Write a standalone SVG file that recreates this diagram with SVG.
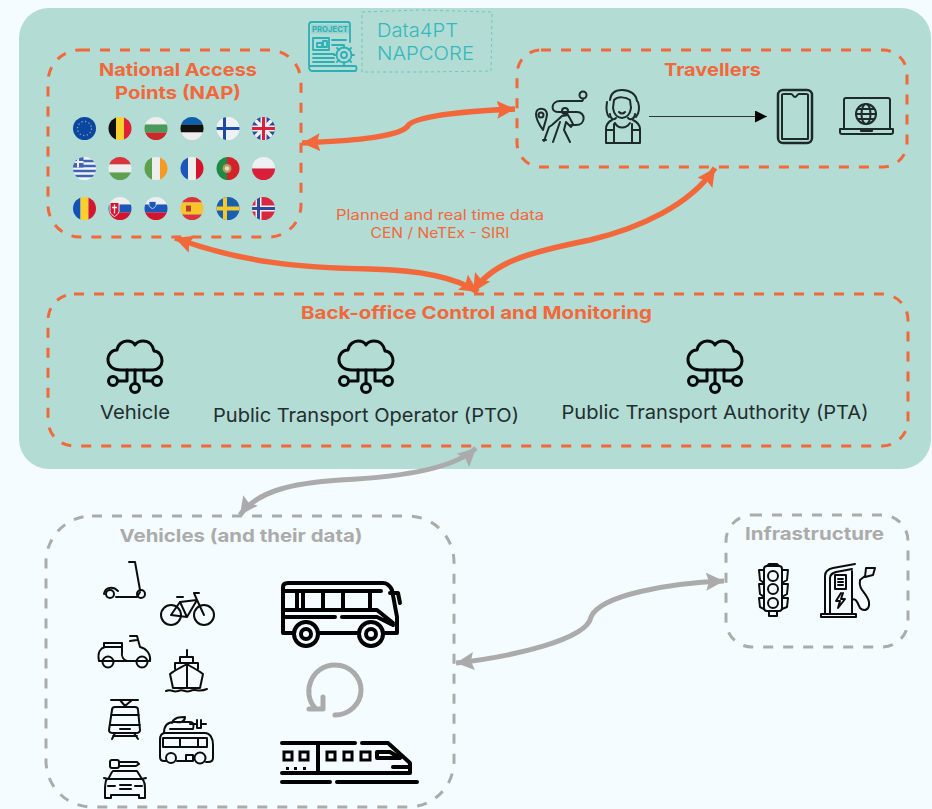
<svg xmlns="http://www.w3.org/2000/svg" width="932" height="809" viewBox="0 0 932 809">
<style>
.t{font-family:"Inter","Liberation Sans",sans-serif}
.h{font-weight:700;font-size:18px;text-anchor:middle}
.or{fill:#f2683a}.gr{fill:#ababab}
.lb{font-weight:400;font-size:19px;fill:#222e2e;text-anchor:middle}
.bo{fill:none;stroke:#f2683a;stroke-width:3;stroke-dasharray:10 10}
.bg{fill:none;stroke:#ababab;stroke-width:3;stroke-dasharray:10 10}
.ic{fill:none;stroke:#1d2a2a;stroke-width:2;stroke-linecap:round;stroke-linejoin:round}
.ik{fill:none;stroke:#0c0c0c;stroke-width:2;stroke-linecap:round;stroke-linejoin:round}
.ib{fill:none;stroke:#000;stroke-width:4;stroke-linecap:round;stroke-linejoin:round}
.cl{fill:none;stroke:#050a0a;stroke-width:3;stroke-linecap:round;stroke-linejoin:round}
.ip{fill:none;stroke:#2bb0b5;stroke-width:1.800;stroke-linecap:round;stroke-linejoin:round}
.co{fill:none;stroke:#f2683a;stroke-width:5.500;marker-start:url(#ao);marker-end:url(#ao)}
.cg{fill:none;stroke:#ababab;stroke-width:5;marker-start:url(#ag);marker-end:url(#ag)}
</style>
<defs>
<marker id="ao" markerUnits="userSpaceOnUse" markerWidth="20" markerHeight="20" refX="18" refY="9" orient="auto-start-reverse"><path d="M0 0L18 9L0 18L3 9z" fill="#f2683a"/></marker>
<marker id="ag" markerUnits="userSpaceOnUse" markerWidth="20" markerHeight="20" refX="18" refY="9" orient="auto-start-reverse"><path d="M0 0L18 9L0 18L3 9z" fill="#ababab"/></marker>
<marker id="ak" markerUnits="userSpaceOnUse" markerWidth="13" markerHeight="13" refX="12" refY="6" orient="auto"><path d="M0 0L12 6L0 12z" fill="#000"/></marker>
<clipPath id="fc"><circle r="11.500"/></clipPath>
<symbol id="cloud" overflow="visible">
<path class="cl" d="M13 29C4 29 0 24 0 19C0 13 4 9 9 9C10 3 15 0 19 0C23 0 26 2 27 4C29 1 32 0 35 0C41 0 45 4 46 10C51 10 54 15 54 20C54 25 50 29 45 29Z"/>
<path class="cl" d="M19 29V40H10M27 29V42.500M36 29V40H44"/>
<circle class="cl" cx="5" cy="40" r="4.500"/><circle class="cl" cx="49" cy="40" r="4.500"/><circle class="cl" cx="27" cy="47" r="4.500"/>
</symbol>
</defs>
<rect width="932" height="809" fill="#f4fcff"/>
<rect x="19" y="8" width="912" height="461" rx="30" fill="#b3dcd5"/>

<g id="project-logo">
<path class="ip" d="M309 66V25C309 23 310 22 312 22H348C349 22 350 23 350 25V42M309 66H355C357 66 357 71 355 71H312C310 71 309 69 309 66Z"/>
<rect x="311" y="24.500" width="38" height="9" fill="#2bb0b5" opacity=".2"/>
<text class="t" x="330" y="32" font-size="8" font-weight="700" fill="#2bb0b5" text-anchor="middle" textLength="36" lengthAdjust="spacingAndGlyphs">PROJECT</text>
<rect class="ip" x="313" y="38" width="16" height="12"/><rect class="ip" x="317" y="43" width="5" height="4"/><rect class="ip" x="323" y="41" width="4" height="6"/><path class="ip" d="M332 40H346M332 45H343M313 54H334M313 58H334M313 62H334"/>
<circle class="ip" cx="344" cy="55" r="3"/><circle class="ip" cx="344" cy="55" r="7.500"/><path class="ip" d="M344 45V47.500M344 62.500V65M334 55H336.500M351.500 55H354M337 48L339 50M349 60L351 62M351 48L349 50M339 60L337 62"/>
<path d="M362 12L420 10L492 12L491 71L420 72L362 72Z" fill="none" stroke="#2bb0b5" stroke-width="1" stroke-dasharray="3 3" opacity=".5"/>
<text class="t" x="377" y="37" font-size="19" font-weight="300" fill="#35b8bc" textLength="81" lengthAdjust="spacingAndGlyphs">Data4PT</text>
<text class="t" x="377" y="60" font-size="19" font-weight="300" fill="#35b8bc" textLength="97" lengthAdjust="spacingAndGlyphs">NAPCORE</text>
</g>

<g id="connectors">
<path class="co" d="M302 143C345 141 395 138 407 127C412 116 465 111 515 109"/>
<path class="co" d="M175 238C240 262 300 268 370 269C420 270 455 277 478 292"/>
<path class="co" d="M715 168C690 205 640 228 590 240C530 252 492 262 473 292"/>
<path class="cg" d="M476 448C455 468 405 477 340 480C295 483 258 490 240 515"/>
<path class="cg" d="M724 581C670 583 600 595 591 617C587 640 510 657 456 663"/>
</g>

<g id="nap">
<rect class="bo" x="48" y="50" width="253" height="187" rx="32"/>
<text class="t h or" x="178" y="76" textLength="158" lengthAdjust="spacingAndGlyphs">National Access</text>
<text class="t h or" x="178" y="99" textLength="126" lengthAdjust="spacingAndGlyphs">Points (NAP)</text>
<g id="flags">
<g transform="translate(84.500 128.500)" clip-path="url(#fc)"><rect x="-12" y="-12" width="24" height="24" fill="#0b46a0"/><circle r="7" fill="none" stroke="#8fa3b8" stroke-width="1.300" stroke-dasharray="1.300 2.400"/></g>
<g transform="translate(120 128.500)" clip-path="url(#fc)"><rect x="-12" y="-12" width="8" height="24" fill="#111"/><rect x="-4" y="-12" width="8" height="24" fill="#f8d12f"/><rect x="4" y="-12" width="8" height="24" fill="#e0213a"/></g>
<g transform="translate(156 128.500)" clip-path="url(#fc)"><rect x="-12" y="-12" width="24" height="8" fill="#eee"/><rect x="-12" y="-4" width="24" height="8" fill="#4a9a5c"/><rect x="-12" y="4" width="24" height="8" fill="#c92b2b"/></g>
<g transform="translate(192 128.500)" clip-path="url(#fc)"><rect x="-12" y="-12" width="24" height="8" fill="#0d5eaf"/><rect x="-12" y="-4" width="24" height="8" fill="#111"/><rect x="-12" y="4" width="24" height="8" fill="#eee"/></g>
<g transform="translate(228 128.500)" clip-path="url(#fc)"><rect x="-12" y="-12" width="24" height="24" fill="#eef2f5"/><rect x="-12" y="-1.500" width="24" height="3" fill="#1b4aa0"/><rect x="-5" y="-12" width="3" height="24" fill="#1b4aa0"/></g>
<g transform="translate(263.500 128.500)" clip-path="url(#fc)"><rect x="-12" y="-12" width="24" height="24" fill="#2b4a9a"/><path d="M-12-12L12 12M12-12L-12 12" stroke="#eee" stroke-width="3.500"/><path d="M-12 0H12M0-12V12" stroke="#eee" stroke-width="6"/><path d="M-12 0H12M0-12V12" stroke="#d8203a" stroke-width="3"/></g>

<g transform="translate(84.500 168.500)" clip-path="url(#fc)"><rect x="-12" y="-12" width="24" height="24" fill="#f2f4f6"/><path d="M-12-7.500H12M-12-2.500H12M-12 2.500H12M-12 7.500H12" stroke="#3f63b5" stroke-width="2.400"/><rect x="-12" y="-12" width="11" height="11" fill="#3f63b5"/><path d="M-6.500-12V-1M-12-6.500H-1" stroke="#eee" stroke-width="2"/></g>
<g transform="translate(120 168.500)" clip-path="url(#fc)"><rect x="-12" y="-12" width="24" height="8" fill="#d8343a"/><rect x="-12" y="-4" width="24" height="8" fill="#eee"/><rect x="-12" y="4" width="24" height="8" fill="#5fa04e"/></g>
<g transform="translate(156 168.500)" clip-path="url(#fc)"><rect x="-12" y="-12" width="8" height="24" fill="#5fa04e"/><rect x="-4" y="-12" width="8" height="24" fill="#eee"/><rect x="4" y="-12" width="8" height="24" fill="#f79a24"/></g>
<g transform="translate(192 168.500)" clip-path="url(#fc)"><rect x="-12" y="-12" width="8" height="24" fill="#1c56b8"/><rect x="-4" y="-12" width="8" height="24" fill="#eee"/><rect x="4" y="-12" width="8" height="24" fill="#d3142c"/></g>
<g transform="translate(228 168.500)" clip-path="url(#fc)"><rect x="-12" y="-12" width="11" height="24" fill="#1f8a45"/><rect x="-1" y="-12" width="13" height="24" fill="#d3232a"/><circle cx="-1" r="4.500" fill="#b89a5a"/><circle cx="-1" r="2.200" fill="#ddd"/></g>
<g transform="translate(263.500 168.500)" clip-path="url(#fc)"><rect x="-12" y="-12" width="24" height="12" fill="#eef1f3"/><rect x="-12" y="0" width="24" height="12" fill="#d9203a"/></g>

<g transform="translate(84.500 208.500)" clip-path="url(#fc)"><rect x="-12" y="-12" width="8" height="24" fill="#1251b5"/><rect x="-4" y="-12" width="8" height="24" fill="#f7d12e"/><rect x="4" y="-12" width="8" height="24" fill="#d5162e"/></g>
<g transform="translate(120 208.500)" clip-path="url(#fc)"><rect x="-12" y="-12" width="24" height="8" fill="#eee"/><rect x="-12" y="-4" width="24" height="8" fill="#1c56b8"/><rect x="-12" y="4" width="24" height="8" fill="#d3142c"/><path d="M-10-6H-1V3C-2 6-4 7-5.500 8C-7 7-9 6-10 3Z" fill="#d3142c" stroke="#eee"/><path d="M-5.500-4V5M-8-1H-3" stroke="#eee" stroke-width="1.300"/></g>
<g transform="translate(156 208.500)" clip-path="url(#fc)"><rect x="-12" y="-12" width="24" height="8" fill="#eee"/><rect x="-12" y="-4" width="24" height="8" fill="#1c56b8"/><rect x="-12" y="4" width="24" height="8" fill="#d3142c"/><path d="M-7-7H0V-3C-1-1-3 0-3.500 0C-4 0-6-1-7-3Z" fill="#1c56b8" stroke="#eee" stroke-width=".8"/></g>
<g transform="translate(192 208.500)" clip-path="url(#fc)"><rect x="-12" y="-12" width="24" height="6" fill="#d8343a"/><rect x="-12" y="-6" width="24" height="12" fill="#f8c42d"/><rect x="-12" y="6" width="24" height="6" fill="#d8343a"/><rect x="-6" y="-3" width="5" height="6" fill="#b5402a"/></g>
<g transform="translate(228 208.500)" clip-path="url(#fc)"><rect x="-12" y="-12" width="24" height="24" fill="#1a5fae"/><rect x="-12" y="-2" width="24" height="4" fill="#f4c92d"/><rect x="-5" y="-12" width="4" height="24" fill="#f4c92d"/></g>
<g transform="translate(263.500 208.500)" clip-path="url(#fc)"><rect x="-12" y="-12" width="24" height="24" fill="#d8273f"/><path d="M-12 0H12M-5-12V12" stroke="#eee" stroke-width="6"/><path d="M-12 0H12M-5-12V12" stroke="#2b4a9a" stroke-width="3"/></g>
</g>
</g>

<g id="travellers">
<rect class="bo" x="517" y="50" width="390" height="117" rx="24"/>
<text class="t h or" x="712.500" y="76" textLength="97" lengthAdjust="spacingAndGlyphs">Travellers</text>
<path id="inner-arrow" d="M649 116.500H767" fill="none" stroke="#333" stroke-width="1" marker-end="url(#ak)"/>
<g id="hiker">
<circle class="ic" cx="583" cy="95" r="3.500"/><path class="ic" d="M583 100L582 101H560C551 101 550 112 558 112H577C586 112 586 125 576 125H571"/>
<circle class="ic" cx="541" cy="115" r="2.500"/><path class="ic" d="M543 130C538 123 536 118 536 114C536 107 546 107 547 114C547 118 545 122 543 130Z"/>
<circle class="ic" cx="565" cy="111" r="3"/><path class="ic" d="M562 116L568 115L573 124L571 127L566 122L564 130L570 142M562 116L552 125L549 127M560 122L553 142M549 127L544 141M546 140L543 140"/>
</g>
<g id="woman">
<path class="ic" d="M610 100C611 91 617 90 622 90C630 90 636 94 637 101M607 102C606 108 606 113 609 117M638 102C640 108 639 113 636 117"/>
<path class="ic" d="M614 100C618 96 626 97 630 100L631 108C630 115 626 118 622 118C618 118 614 115 613 108Z"/>
<path class="ic" d="M616 118C613 121 610 118 610 114M628 118C631 121 635 118 635 114M615 123C618 129 626 129 630 123M612 120C608 122 606 124 606 129V143H640V129C640 124 637 122 633 120M614 124V143M632 124V143M606 130H614M632 130H640"/>
<path class="ic" d="M619 112C621 114 623 114 625 112"/>
</g>
<g id="phone">
<rect class="ic" style="stroke-width:2.500" x="778" y="90" width="34" height="53" rx="5"/>
<path class="ic" d="M782 95C782 94 783 94 784 94H791C793 94 793 97 795 97C797 97 797 94 799 94H806C807 94 808 94 808 95V139H782Z"/>
</g>
<g id="laptop">
<path class="ic" d="M844 129V100C844 99 845 98 846 98H888C889 98 890 99 890 100V129"/>
<path class="ic" d="M840 129H893V132C893 134 892 134 891 134H842C841 134 840 134 840 132ZM861 129V131H872V129"/>
<circle class="ic" cx="866" cy="114" r="10"/><ellipse class="ic" cx="866" cy="114" rx="4.500" ry="10"/><path class="ic" d="M856 114H876M858 109H874M858 119H874"/>
</g>
</g>

<text class="t" x="440" y="220" font-size="14" fill="#f2683a" text-anchor="middle" textLength="208" lengthAdjust="spacingAndGlyphs">Planned and real time data</text>
<text class="t" x="440" y="238" font-size="14" fill="#f2683a" text-anchor="middle" textLength="139" lengthAdjust="spacingAndGlyphs">CEN / NeTEx - SIRI</text>

<g id="back-office">
<rect class="bo" x="48" y="294" width="860" height="152" rx="26"/>
<text class="t h or" x="476.500" y="319" textLength="351" lengthAdjust="spacingAndGlyphs">Back-office Control and Monitoring</text>
<g id="vehicle-cloud"><use href="#cloud" x="108" y="341"/><text class="t lb" x="135" y="419" textLength="70" lengthAdjust="spacingAndGlyphs">Vehicle</text></g>
<g id="pto"><use href="#cloud" x="339" y="341"/><text class="t lb" x="366" y="422" textLength="306" lengthAdjust="spacingAndGlyphs">Public Transport Operator (PTO)</text></g>
<g id="pta"><use href="#cloud" x="688" y="341"/><text class="t lb" x="715" y="419" textLength="307" lengthAdjust="spacingAndGlyphs">Public Transport Authority (PTA)</text></g>
</g>

<g id="vehicles">
<rect class="bg" x="46" y="516" width="408" height="291" rx="46"/>
<text class="t h gr" x="241" y="542" textLength="243" lengthAdjust="spacingAndGlyphs">Vehicles (and their data)</text>
<g id="scooter"><path class="ik" d="M129 562H135L140 590M104 594C105 587 113 586 118 591M116 597H137L140 592"/><circle class="ik" cx="110" cy="594" r="4"/><circle class="ik" cx="141" cy="594" r="4"/></g>
<g id="bicycle"><circle class="ik" cx="171" cy="615" r="10"/><circle class="ik" cx="204" cy="615" r="10"/><path class="ik" d="M171 615L180 602L197 600L187 617ZM180 602L187 617M177 597H183M197 600L194 593H199M197 600L204 615"/></g>
<g id="moped"><circle class="ik" cx="108" cy="662" r="5.500"/><circle class="ik" cx="142" cy="662" r="5.500"/><path class="ik" d="M99 661C97 652 101 648 105 647H122V652C121 657 124 660 127 661H136M104 643H122V647H104ZM99 661H150C151 654 146 648 140 647L137 636H130M137 640L130 641"/></g>
<g id="ship"><path class="ik" d="M187 650V657M180 657H193V663H180ZM175 669V663H198V669M187 664C180 668 175 670 170 674L173 688H200L203 674C198 670 193 668 187 664ZM187 664V688M166 691C172 688 172 693 178 691C184 688 184 693 190 691C196 688 198 693 207 689"/></g>
<g id="tram"><path class="ik" d="M111 700H138M120 700L125 706L132 700M115 707H135C137 707 138 708 138 710L140 730C140 732 138 733 136 733H113C111 733 109 732 109 730L112 710C112 708 113 707 115 707ZM111 715H139M110 725H140M120 729H130M115 733L112 739M134 733L138 739M113 736H137"/></g>
<g id="ebus"><path class="ik" d="M164 733C164 725 168 722 174 722H190C194 722 194 726 193 729H170M172 723C174 717 180 717 185 717C185 722 180 723 176 722M190 724H197M197 720V728H201V720M201 724H206"/><path class="ik" d="M165 733H205C210 733 213 738 213 745V758C213 761 211 762 208 762H206M165 733C161 733 160 736 160 740V757C160 760 161 761 164 761H166M163 738H207V747H163ZM180 738V747M198 738V747M177 761H193V755H186V761"/><circle class="ik" cx="171" cy="758" r="5"/><circle class="ik" cx="200" cy="758" r="5.500"/></g>
<g id="car"><rect class="ik" x="110" y="760" width="9" height="8" rx="2"/><path class="ik" d="M119 762H137L139 764L136 766H119M112 772C110 775 110 777 108 779L104 778M113 771H137L142 779L146 778M107 779C105 781 105 785 105 790V798H111V795H139V798H145V790C145 785 145 781 142 779ZM107 779H143M120 785H131M120 789H131M108 786H115M135 786H142"/></g>
<g id="bus"><path class="ib" d="M320 633H357M292 633H283V587C283 584 285 583 288 583H383C387 583 390 586 392 590L397 617V633H385M283 591H381M283 610H377L393 623M283 617H335M342 617H377L393 625M297 591V610M303 591V610M323 591V610M343 591V610M370 591V610M390 593H398L400 603"/><circle class="ib" cx="306" cy="634" r="12"/><circle class="ib" cx="371" cy="634" r="12"/><circle class="ib" cx="306" cy="634" r="5"/><circle class="ib" cx="371" cy="634" r="5"/></g>
<g id="cycle"><path d="M315 708C301 692 312 665 335 665C351 665 361 678 361 690C361 704 349 715 335 715" fill="none" stroke="#ababab" stroke-width="5" stroke-linecap="round"/><path d="M323 697V709H309" fill="none" stroke="#ababab" stroke-width="5" stroke-linejoin="round" stroke-linecap="round"/></g>
<g id="train"><path class="ib" d="M282 743H355M362 743H388L410 763V773H282M318 743V773M282 782H330M337 782H417M377 752H390L400 758H377ZM393 767H410"/><path d="M284 752h8v8h-8zM300 752h8v8h-8zM327 752h8v8h-8zM344 752h8v8h-8zM361 752h9v8h-9z" fill="none" stroke="#000" stroke-width="3"/><path d="M286 767h3v3h-3zM294 767h3v3h-3zM303 767h3v3h-3z" fill="#000"/></g>
</g>

<g id="infrastructure">
<rect class="bg" x="726" y="515" width="182" height="132" rx="26"/>
<text class="t h gr" x="814.500" y="540" textLength="139" lengthAdjust="spacingAndGlyphs">Infrastructure</text>
<g id="traffic-light"><rect class="ik" x="764" y="566" width="18" height="45" rx="3"/><circle class="ik" cx="773" cy="576" r="5"/><circle class="ik" cx="773" cy="589" r="5"/><circle class="ik" cx="773" cy="603" r="5"/><path class="ik" d="M764 570H759L760 580L764 583M782 570H788L787 580L782 583M764 584H759L760 594L764 597M782 584H788L787 594L782 597M764 598H759L760 607L764 609M782 598H788L787 607L782 609M769 611V616H777V611M767 566L769 564H777L779 566"/></g>
<g id="charger"><path class="ik" d="M821 617H856V614H821ZM825 614V576C825 571 828 569 833 568L855 564M830 614V578C830 574 833 573 836 572L852 569M852 614V571"/><rect class="ik" x="835" y="575" width="11" height="14"/><path class="ik" d="M838 579H843M838 582H843M838 585H843M841 593L836 601H840L838 608L845 599H841L843 593"/><path class="ik" d="M852 600C856 597 858 604 860 608C864 612 870 610 869 602C867 593 858 590 860 580L865 576M865 577L873 575L875 568L866 568Z"/></g>
</g>
</svg>
